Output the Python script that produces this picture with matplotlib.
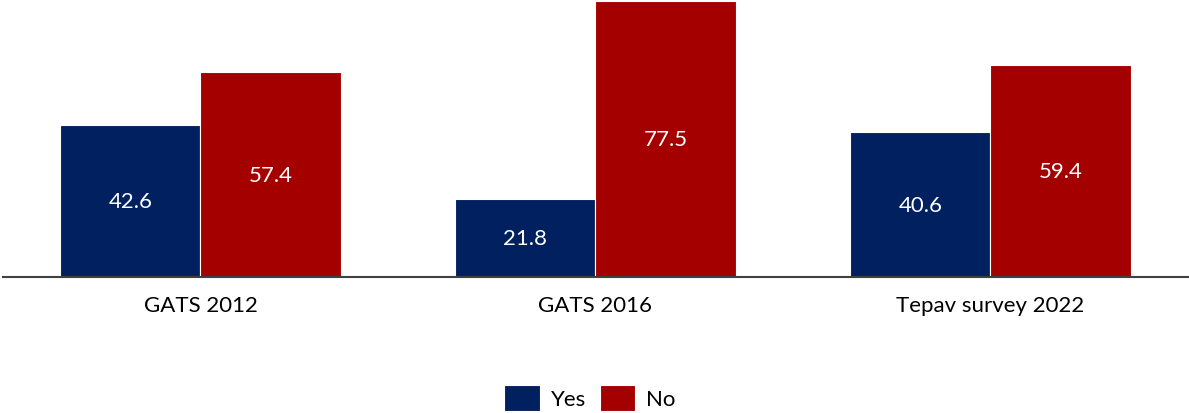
import numpy as np
import matplotlib.pyplot as plt

categories = ['GATS 2012', 'GATS 2016', 'Tepav survey 2022']
yes = [42.6, 21.8, 40.6]
no = [57.4, 77.5, 59.4]

plt.rcParams['font.family'] = ['Lato', 'DejaVu Sans']

navy = '#002060'
red = '#A50000'

fig = plt.figure(figsize=(11.89, 4.14), dpi=100)
ax = fig.add_axes([3/1189, 1 - 278/414, 1185/1189, 278/414])

x = np.arange(len(categories))
w = 0.355
b1 = ax.bar(x - w/2, yes, w, color=navy, edgecolor='white', linewidth=0.8, label='Yes')
b2 = ax.bar(x + w/2, no, w, color=red, edgecolor='white', linewidth=0.8, label='No')

# value labels centred inside each bar
for bars, vals in ((b1, yes), (b2, no)):
    for rect, v in zip(bars, vals):
        ax.text(rect.get_x() + rect.get_width()/2, v/2, f'{v:.1f}',
                ha='center', va='center', color='white', fontsize=16)

ax.set_xlim(-0.5, len(categories) - 0.5)
ax.set_ylim(0, 78)
ax.set_xticks(x)
ax.set_xticklabels(categories, fontsize=16)
ax.tick_params(axis='x', length=0, pad=13)
ax.set_yticks([])
for s in ('top', 'right', 'left'):
    ax.spines[s].set_visible(False)
ax.spines['bottom'].set_color('#404040')
ax.spines['bottom'].set_linewidth(1.5)

fig.legend(loc='center', bbox_to_anchor=(590/1189, 1 - 399/414), ncol=2,
           frameon=False, fontsize=16, handlelength=1.6, handleheight=1.45,
           handletextpad=0.5, columnspacing=0.6)

plt.savefig('out.png', dpi=100)
